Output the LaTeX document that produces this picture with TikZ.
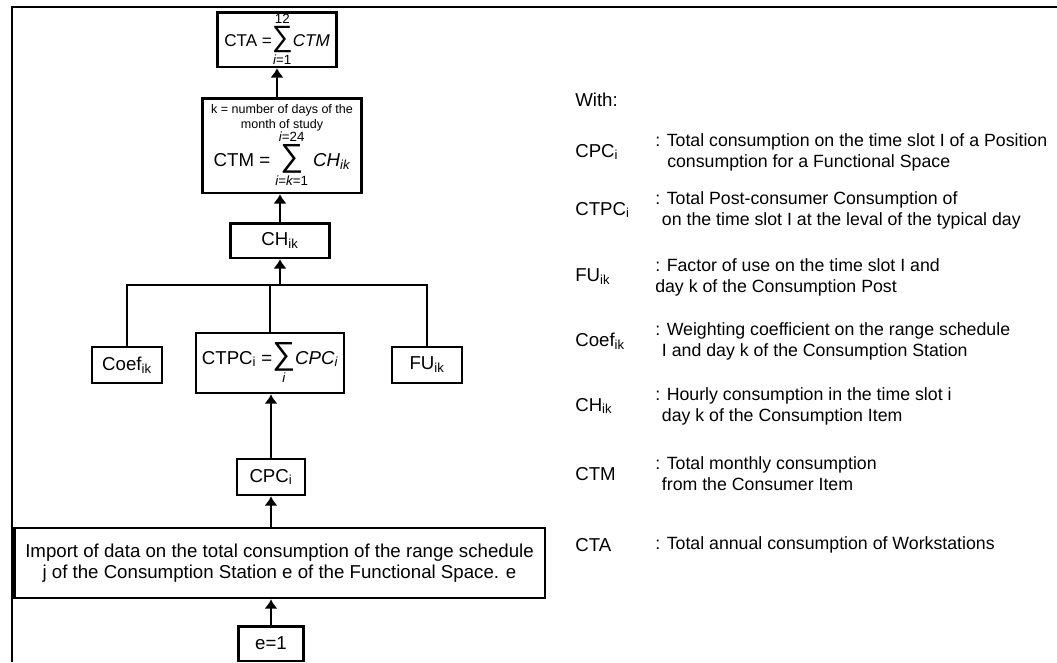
\documentclass[tikz,border=0pt]{standalone}
\usepackage{fontspec}
\setmainfont{Liberation Sans}
\usetikzlibrary{arrows.meta}

% big sans summation sign with limits
\newcommand{\bigsum}[1][24]{\hbox{\fontsize{#1}{#1}\selectfont ∑}}
\newcommand{\kfont}{\fontsize{9.4}{11}\selectfont}
\newcommand{\limfont}{\fontsize{10}{10}\selectfont}

\begin{document}
\begin{tikzpicture}[x=0.75pt,y=-0.75pt,
  box/.style={draw, line width=2pt, inner sep=1pt, align=center, font=\fontsize{14}{15.5}\selectfont},
  arr/.style={line width=2pt, -{Latex[length=7pt,width=10pt]}},
  link/.style={line width=2pt},
  sym/.style={anchor=west, inner sep=0pt, font=\fontsize{14}{16}\selectfont},
  desc/.style={anchor=west, inner sep=0pt, align=left, font=\fontsize{13.3}{15.75}\selectfont}]
  \useasboundingbox (0,0) rectangle (1057,662);

  % --- Frame ---
  \draw[link] (12,662) -- (12,7) -- (1057,7);

  % --- Flow chart ---
  \node[box, minimum width=89pt, minimum height=41pt, inner sep=0pt,
        font=\fontsize{12.8}{14}\selectfont] (cta) at (277,39.5)
    {CTA =$\mathop{\bigsum[22]}\limits^{\hbox{\limfont 12}}_{\hbox{\limfont\itshape i\upshape=1}}$\textit{CTM}};
  \node[box, minimum width=119pt, minimum height=71pt] (ctm) at (282,145.5)
    {\kfont k = number of days of the\\[-4.5pt] \kfont month of study\\[-1pt]
     CTM = $\mathop{\bigsum}\limits^{\hbox{\limfont\itshape i\upshape=24}}_{\hbox{\limfont\itshape i\upshape=\itshape k\upshape=1}}$ \textit{CH\textsubscript{ik}}};
  \node[box, minimum width=74pt, minimum height=26pt] (ch) at (280,240.5) {CH\textsubscript{ik}};
  \node[box, minimum width=52.5pt, minimum height=27pt] (coef) at (127,365) {Coef\textsubscript{ik}};
  \node[box, minimum width=111pt, minimum height=45pt, inner sep=0pt] (ctpc) at (270,363)
    {CTPC\textsubscript{i} =$\mathop{\bigsum}\limits_{\hbox{\limfont\itshape i}}$\textit{CPC\textsubscript{i}}};
  \node[box, minimum width=52.5pt, minimum height=27pt] (fu) at (427,365) {FU\textsubscript{ik}};
  \node[box, minimum width=51pt, minimum height=27pt] (cpc) at (271,477) {CPC\textsubscript{i}};
  \node[box, minimum width=398pt, minimum height=52.5pt] (imp) at (279.5,563)
    {Import of data on the total consumption of the range schedule\\
     j of the Consumption Station e of the Functional Space. e};
  \node[box, minimum width=49pt, minimum height=26pt] (e1) at (271,643.5) {e=1};

  \coordinate (jn) at (280,285);

  % --- Connectors ---
  \draw[arr] (e1.north) -- (e1.north |- imp.south);
  \draw[arr] (cpc.north |- imp.north) -- (cpc.south);
  \draw[arr] (cpc.north) -- (ctpc.south -| cpc.north);
  \draw[link] (coef.north) |- (jn) -| (fu.north);
  \draw[link] (ctpc.north) -- (ctpc.north |- jn);
  \draw[arr] (jn) -- (ch.south);
  \draw[arr] (ch.north) -- (ctm.south -| ch.north);
  \draw[arr] (ctm.north -| cta.south) -- (cta.south);

  % --- Legend ---
  \node[sym] (lwith) at (575,100) {With:};
  \node[sym] (lcpc) at (575,152) {CPC\textsubscript{i}};
  \node[desc] (dcpc) at (655,152)
    {: Total consumption on the time slot I of a Position\\\hspace*{9pt}consumption for a Functional Space};
  \node[sym] (lctpc) at (575,210) {CTPC\textsubscript{i}};
  \node[desc] (dctpc) at (655,210)
    {: Total Post-consumer Consumption of\\\hspace*{5pt}on the time slot I at the leval of the typical day};
  \node[sym] (lfu) at (575,277) {FU\textsubscript{ik}};
  \node[desc] (dfu) at (655,277)
    {: Factor of use on the time slot I and\\day k of the Consumption Post};
  \node[sym] (lcoef) at (575,341) {Coef\textsubscript{ik}};
  \node[desc] (dcoef) at (655,341)
    {: Weighting coefficient on the range schedule\\\hspace*{5pt}I and day k of the Consumption Station};
  \node[sym] (lch) at (575,406) {CH\textsubscript{ik}};
  \node[desc] (dch) at (655,406)
    {: Hourly consumption in the time slot i\\\hspace*{5pt}day k of the Consumption Item};
  \node[sym] (lctm) at (575,474) {CTM};
  \node[desc] (dctm) at (655,474)
    {: Total monthly consumption\\\hspace*{5pt}from the Consumer Item};
  \node[sym] (lcta) at (575,545) {CTA};
  \node[desc] (dcta) at (655,545) {: Total annual consumption of Workstations};
\end{tikzpicture}
\end{document}
